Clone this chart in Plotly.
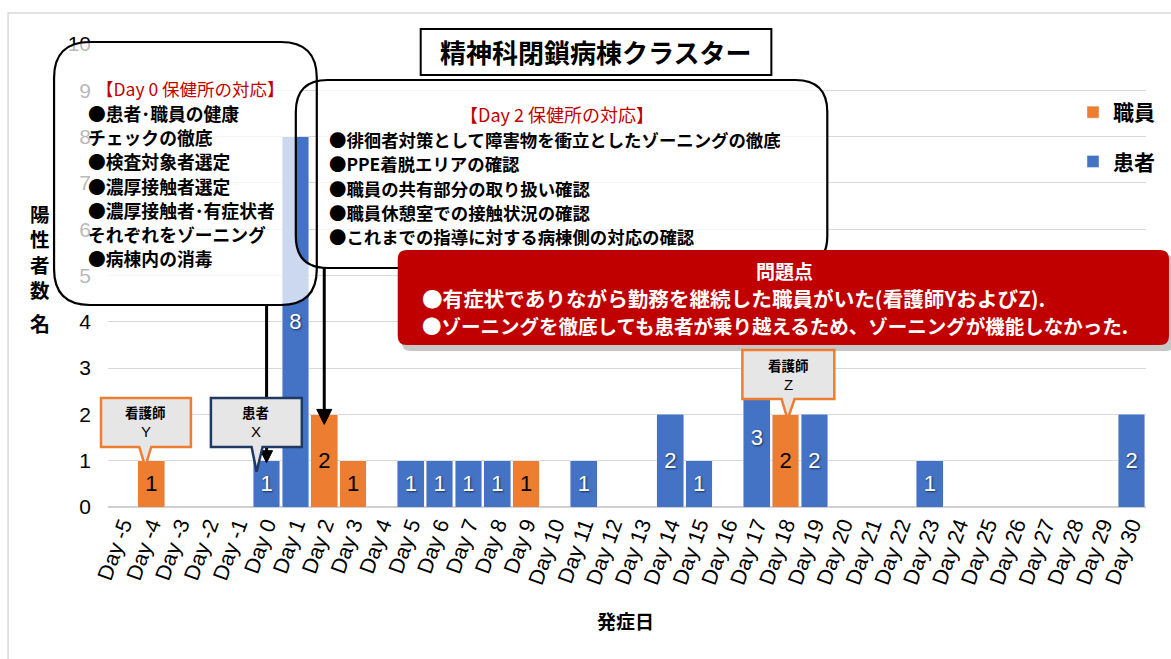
import plotly.graph_objects as go

# ---------------- data ----------------
categories = ["Day -5", "Day -4", "Day -3", "Day -2", "Day -1", "Day 0", "Day 1", "Day 2",
              "Day 3", "Day 4", "Day 5", "Day 6", "Day 7", "Day 8", "Day 9", "Day 10",
              "Day 11", "Day 12", "Day 13", "Day 14", "Day 15", "Day 16", "Day 17", "Day 18",
              "Day 19", "Day 20", "Day 21", "Day 22", "Day 23", "Day 24", "Day 25", "Day 26",
              "Day 27", "Day 28", "Day 29", "Day 30"]
staff = [0, 1, 0, 0, 0, 0, 0, 2, 1, 0, 0, 0, 0, 0, 1, 0, 0, 0,
         0, 0, 0, 0, 0, 2, 0, 0, 0, 0, 0, 0, 0, 0, 0, 0, 0, 0]
patients = [0, 0, 0, 0, 0, 1, 8, 0, 0, 0, 1, 1, 1, 1, 0, 0, 1, 0,
            0, 2, 1, 0, 3, 0, 2, 0, 0, 0, 1, 0, 0, 0, 0, 0, 0, 2]
y_ticks = [0, 1, 2, 3, 4, 5, 6, 7, 8, 9, 10]

title_text = "精神科閉鎖病棟クラスター"
x_title = "発症日"
y_title_main = ["陽", "性", "者", "数"]
y_title_unit = "名"
day0_title = "【Day 0 保健所の対応】"
day0_lines = ["●患者･職員の健康", "チェックの徹底", "●検査対象者選定", "●濃厚接触者選定",
              "●濃厚接触者･有症状者", "それぞれをゾーニング", "●病棟内の消毒"]
day2_title = "【Day 2 保健所の対応】"
day2_lines = ["●徘徊者対策として障害物を衝立としたゾーニングの徹底", "●PPE着脱エリアの確認",
              "●職員の共有部分の取り扱い確認", "●職員休憩室での接触状況の確認",
              "●これまでの指導に対する病棟側の対応の確認"]
problem_title = "問題点"
problem_lines = ["●有症状でありながら勤務を継続した職員がいた(看護師YおよびZ).",
                 "●ゾーニングを徹底しても患者が乗り越えるため、ゾーニングが機能しなかった."]

ORANGE = "#ED7D31"
BLUE = "#4472C4"
RED = "#C00000"
JP = "Noto Sans CJK JP"
LAT = "Liberation Sans"

# ---------------- geometry helpers (pixel -> paper) ----------------
W, H = 1171, 659
ML, MR, MT, MB = 108, 24, 44, 152
PW, PH = W - ML - MR, H - MT - MB
YMAX = 10


def px(x):
    return (x - ML) / PW


def py(y):
    return (H - MB - y) / PH


def cx(cat):
    return ML + (categories.index(cat) + 0.5) * PW / len(categories)


def vy(v):
    return H - MB - v * PH / YMAX


def rrect(x0, y0, x1, y1, r):
    pts = [
        ("M", [(x0 + r, y0)]), ("L", [(x1 - r, y0)]), ("Q", [(x1, y0), (x1, y0 + r)]),
        ("L", [(x1, y1 - r)]), ("Q", [(x1, y1), (x1 - r, y1)]), ("L", [(x0 + r, y1)]),
        ("Q", [(x0, y1), (x0, y1 - r)]), ("L", [(x0, y0 + r)]), ("Q", [(x0, y0), (x0 + r, y0)]),
    ]
    s = ""
    for cmd, ps in pts:
        s += cmd + " " + " ".join(f"{px(a):.5f},{py(b):.5f}" for a, b in ps) + " "
    return s + "Z"


def poly(points):
    s = "M " + " L ".join(f"{px(a):.5f},{py(b):.5f}" for a, b in points)
    return s + " Z"


fig = go.Figure()
fig.add_trace(go.Bar(
    x=categories, y=staff, name="<b>職員</b>", marker_color=ORANGE,
    text=[str(v) if v else "" for v in staff], textposition="inside",
    insidetextanchor="middle", textangle=0,
    textfont=dict(family=LAT, size=22, color="black"),
    legendgroup="staff",
))
fig.add_trace(go.Bar(
    x=categories, y=patients, name="<b>患者</b>", marker_color=BLUE,
    text=[str(v) if v else "" for v in patients], textposition="inside",
    insidetextanchor="middle", textangle=0,
    textfont=dict(family=LAT, size=22, color="white", shadow="1px 1px 2px rgba(0,0,0,0.6)"),
    legendgroup="patients",
))

shapes = []
ann = []

# outer chart border
shapes.append(dict(type="rect", xref="paper", yref="paper", x0=px(8), y0=py(13), x1=px(1185), y1=py(680),
                   line=dict(color="#D9D9D9", width=1.5), fillcolor="rgba(0,0,0,0)", layer="below"))

# Day 0 / Day 2 boxes: semi-transparent union fill, then outlines
B0 = (54, 42, 317, 305, 36)
B2 = (296, 80, 828, 268, 32)
shapes.append(dict(type="path", xref="paper", yref="paper", path=rrect(*B0) + " " + rrect(*B2),
                   fillcolor="rgba(255,255,255,0.72)", line=dict(width=0), layer="above"))
for b in (B0, B2):
    shapes.append(dict(type="path", xref="paper", yref="paper", path=rrect(*b),
                       fillcolor="rgba(0,0,0,0)", line=dict(color="black", width=2.2), layer="above"))


# arrows from boxes to bars
def arrow(x, y_start, y_tip, head_w, head_l):
    shapes.append(dict(type="line", xref="paper", yref="paper", x0=px(x), x1=px(x),
                       y0=py(y_start), y1=py(y_tip - head_l + 1), line=dict(color="black", width=3),
                       layer="above"))
    shapes.append(dict(type="path", xref="paper", yref="paper",
                       path=poly([(x - head_w / 2, y_tip - head_l), (x + head_w / 2, y_tip - head_l), (x, y_tip)]),
                       fillcolor="black", line=dict(color="black", width=1), layer="above"))


arrow(cx("Day 0"), 305, vy(patients[categories.index("Day 0")]) + 2, 12, 12)
arrow(cx("Day 2"), 268, vy(staff[categories.index("Day 2")]) + 10, 15, 15)

# red problem box with shadow
shapes.append(dict(type="path", xref="paper", yref="paper", path=rrect(402, 255, 1176, 351, 9),
                   fillcolor="rgba(0,0,0,0.22)", line=dict(width=0), layer="above"))
shapes.append(dict(type="path", xref="paper", yref="paper", path=rrect(398, 250, 1170, 345, 9),
                   fillcolor=RED, line=dict(width=0), layer="above"))


# speech-bubble callouts
def bubble(x0, y0, x1, y1, tail_l, tail_r, tip, border):
    pts = [(x0, y0), (x1, y0), (x1, y1), (tail_r, y1), tip, (tail_l, y1), (x0, y1)]
    shapes.append(dict(type="path", xref="paper", yref="paper", path=poly(pts),
                       fillcolor="#E7E6E6", line=dict(color=border, width=2.5), layer="above"))


bY = cx("Day -4")
bubble(101, 398, 191, 447, bY - 12, bY, (bY - 6, vy(staff[categories.index("Day -4")]) + 6), ORANGE)
bX = cx("Day 0")
bubble(211, 398, 302, 447, bX - 15, bX - 4, (bX - 10, vy(patients[categories.index("Day 0")]) + 11), "#1F3864")
bZ = cx("Day 18")
bubble(743, 350, 835, 399, bZ - 4, bZ + 9, (bZ + 2, vy(staff[categories.index("Day 18")]) + 5), ORANGE)

# title box
shapes.append(dict(type="rect", xref="paper", yref="paper", x0=px(421), y0=py(29), x1=px(772), y1=py(75),
                   fillcolor="white", line=dict(color="black", width=2), layer="above"))


def text(x, y, s, size, color="black", bold=True, xanchor="left", family=JP, height=None):
    a = dict(xref="paper", yref="paper", x=px(x), y=py(y), text=f"<b>{s}</b>" if bold else s,
             showarrow=False, xanchor=xanchor, yanchor="middle",
             font=dict(family=family, size=size, color=color))
    if height is not None:
        a["height"] = height
    ann.append(a)


text(596, 52, title_text, 26, xanchor="center")

# Day 0 box text
text(94, 88, day0_title, 17.5, color=RED, bold=False)
for i, line in enumerate(day0_lines):
    text(86, 113 + i * 24.2, line, 17.8, height=22)

# Day 2 box text
text(557, 114, day2_title, 18, color=RED, bold=False, xanchor="center")
for i, line in enumerate(day2_lines):
    text(327, 139 + i * 24.3, line, 17.4, height=22)

# problem box text
text(785, 270, problem_title, 19, color="white", xanchor="center", height=24)
text(420, 298, problem_lines[0], 20.6, color="white", height=24)
text(420, 325, problem_lines[1], 19.5, color="white", height=24)

# callout texts
text(146, 412, "看護師", 13.5, xanchor="center", height=18)
text(146, 431, "Y", 15, bold=False, xanchor="center", family=LAT, height=18)
text(256, 412, "患者", 13.5, xanchor="center", height=18)
text(256, 431, "X", 15, bold=False, xanchor="center", family=LAT, height=18)
text(789, 365, "看護師", 13.5, xanchor="center", height=18)
text(789, 384, "Z", 15, bold=False, xanchor="center", family=LAT, height=18)

# axis titles
text(626, 620, x_title, 19, xanchor="center")
text(40, 251.5, "<br>".join(y_title_main), 19.5, xanchor="center")
text(40, 323, y_title_unit, 20, xanchor="center")

fig.update_layout(
    width=W, height=H,
    margin=dict(l=ML, r=MR, t=MT, b=MB, pad=0),
    paper_bgcolor="white", plot_bgcolor="white",
    barmode="stack", bargap=0.07,
    showlegend=True,
    legend=dict(x=px(1073), y=py(92), xanchor="left", yanchor="top", traceorder="grouped",
                tracegroupgap=19, bgcolor="rgba(0,0,0,0)", font=dict(family=JP, size=21, color="black"),
                itemwidth=30),
    xaxis=dict(type="category", categoryorder="array", categoryarray=categories,
               tickangle=-70, tickfont=dict(family=LAT, size=21.5, color="black"),
               showgrid=False, showline=False, ticks="", zeroline=False, fixedrange=True),
    yaxis=dict(range=[0, YMAX], tickvals=y_ticks, tickfont=dict(family=LAT, size=21, color="black"),
               showgrid=True, gridcolor="#D9D9D9", gridwidth=1.3, zeroline=True, zerolinecolor="#D0D0D0",
               zerolinewidth=1.6, showline=False, ticks="", ticklabelstandoff=16, fixedrange=True),
    shapes=shapes, annotations=ann,
)

fig.write_html("out.html", config={"displayModeBar": False},
               post_script="document.body.style.margin='0px';document.body.style.overflow='hidden';")
